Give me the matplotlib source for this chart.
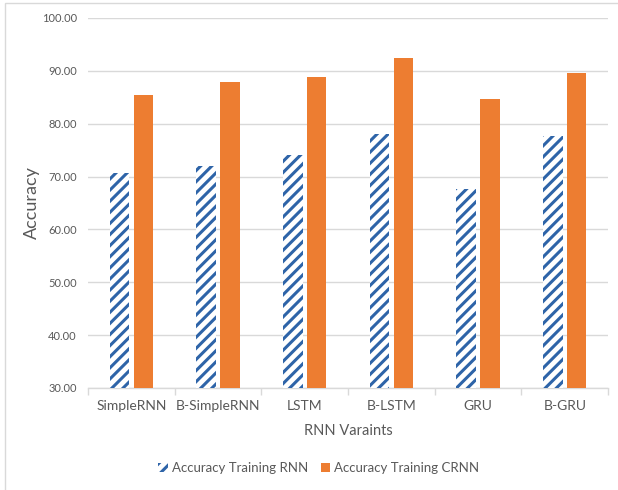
import numpy as np
import matplotlib
matplotlib.use("Agg")
import matplotlib.pyplot as plt
from matplotlib.patches import Rectangle

variants = ["SimpleRNN", "B-SimpleRNN", "LSTM", "B-LSTM", "GRU", "B-GRU"]
acc_rnn = [70.7, 72.0, 74.1, 78.0, 67.7, 77.6]
acc_crnn = [85.5, 87.8, 88.9, 92.4, 84.6, 89.6]
yticks = [30, 40, 50, 60, 70, 80, 90, 100]

blue = "#2E64A8"
orange = "#ED7D31"
text_grey = "#595959"
grid_grey = "#D9D9D9"

plt.rcParams["font.family"] = ["Lato", "DejaVu Sans"]
plt.rcParams["hatch.linewidth"] = 2.2

fig = plt.figure(figsize=(6.18, 4.9), dpi=100)
ax = fig.add_axes([0.1424, 0.2082, 0.8416, 0.7551])

x = np.arange(len(variants))
w = 0.225
off = 0.138

b1 = ax.bar(x - off, acc_rnn, w, color="white", edgecolor=blue, hatch="///",
            linewidth=0, label="Accuracy Training RNN", zorder=3)
b2 = ax.bar(x + off, acc_crnn, w, color=orange, linewidth=0,
            label="Accuracy Training CRNN", zorder=3)

ax.set_xlim(-0.5, len(variants) - 0.5)
ax.set_ylim(30, 100)
ax.set_yticks(yticks)
ax.set_yticklabels([f"{v:.2f}" for v in yticks], fontsize=8, color=text_grey)
ax.set_xticks(x)
ax.set_xticklabels(variants, fontsize=10, color=text_grey)
ax.set_xticks(np.arange(len(variants) + 1) - 0.5, minor=True)
ax.tick_params(axis="x", which="major", length=0, pad=9)
ax.tick_params(axis="x", which="minor", length=5, color=grid_grey, width=1)
ax.tick_params(axis="y", length=0, pad=8)

ax.grid(axis="y", color=grid_grey, linewidth=1, zorder=0)
for s in ["top", "right", "left"]:
    ax.spines[s].set_visible(False)
ax.spines["bottom"].set_color(grid_grey)
ax.spines["bottom"].set_linewidth(1)

ax.set_xlabel("RNN Varaints", fontsize=10.5, color=text_grey, labelpad=8)
ax.set_ylabel("Accuracy", fontsize=13, color=text_grey, labelpad=1)

leg = fig.legend(handles=[b1, b2], loc="center", bbox_to_anchor=(0.516, 0.045),
                 ncol=2, frameon=False, fontsize=9.5, handlelength=0.7,
                 handleheight=0.7, handletextpad=0.3, columnspacing=1.0)
for t in leg.get_texts():
    t.set_color(text_grey)

# outer chart frame
fig.patches.append(Rectangle((4.5 / 618, -0.05), 1.2, 1 - 3 / 490 + 0.05,
                             transform=fig.transFigure, fill=False,
                             edgecolor="#D9D9D9", linewidth=1))

fig.savefig("out.png", dpi=100)
